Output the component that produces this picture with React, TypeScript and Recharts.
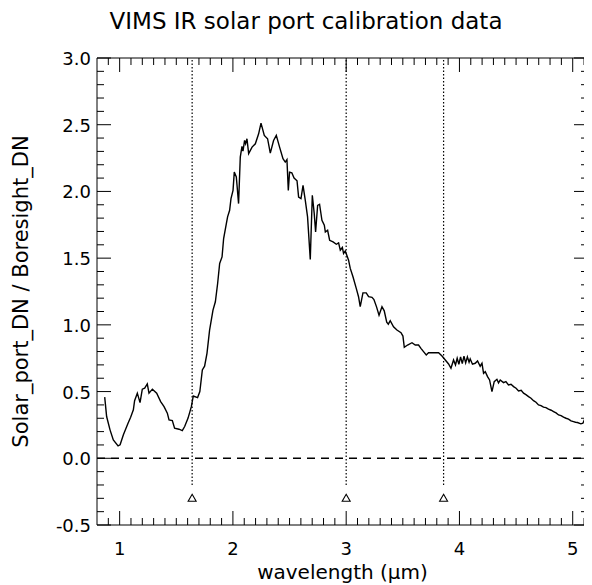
import { ComposedChart, Line, Scatter, XAxis, YAxis, ReferenceLine } from 'recharts';

const wavelength = [
  0.868, 0.885, 0.915, 0.944, 0.986, 1.004, 1.033, 1.074, 1.097, 1.121, 1.132, 1.156, 1.18, 1.2, 1.221,
  1.244, 1.259, 1.289, 1.327, 1.362, 1.392, 1.421, 1.436, 1.465, 1.485, 1.524, 1.553, 1.574, 1.604, 1.633,
  1.65, 1.688, 1.708, 1.73, 1.75, 1.771, 1.794, 1.824, 1.845, 1.865, 1.883, 1.904, 1.918, 1.942, 1.953,
  1.971, 1.983, 2.001, 2.012, 2.03, 2.05, 2.065, 2.08, 2.089, 2.103, 2.112, 2.124, 2.139, 2.169, 2.198,
  2.227, 2.248, 2.277, 2.306, 2.33, 2.359, 2.383, 2.412, 2.442, 2.462, 2.477, 2.489, 2.5, 2.52, 2.54,
  2.566, 2.58, 2.601, 2.619, 2.639, 2.659, 2.683, 2.701, 2.718, 2.73, 2.748, 2.765, 2.786, 2.807, 2.816,
  2.836, 2.854, 2.884, 2.913, 2.933, 2.948, 2.966, 2.977, 2.992, 3.021, 3.036, 3.06, 3.089, 3.109, 3.124,
  3.148, 3.177, 3.198, 3.228, 3.245, 3.268, 3.29, 3.316, 3.336, 3.358, 3.372, 3.389, 3.418, 3.448, 3.484,
  3.501, 3.513, 3.542, 3.581, 3.61, 3.639, 3.66, 3.683, 3.707, 3.727, 3.771, 3.816, 3.846, 3.875, 3.904,
  3.925, 3.948, 3.965, 3.98, 3.995, 4.01, 4.025, 4.04, 4.055, 4.07, 4.085, 4.095, 4.115, 4.139, 4.16,
  4.183, 4.199, 4.213, 4.228, 4.248, 4.266, 4.287, 4.307, 4.331, 4.345, 4.36, 4.389, 4.41, 4.433, 4.455,
  4.478, 4.5, 4.522, 4.545, 4.566, 4.59, 4.61, 4.632, 4.654, 4.676, 4.698, 4.72, 4.742, 4.764, 4.786,
  4.81, 4.831, 4.853, 4.875, 4.897, 4.919, 4.941, 4.963, 4.985, 5.007, 5.025, 5.042, 5.072, 5.09, 5.11,
];
const ratio = [
  0.458, 0.313, 0.213, 0.138, 0.093, 0.101, 0.176, 0.263, 0.308, 0.363, 0.432, 0.488, 0.417, 0.518, 0.525,
  0.557, 0.488, 0.518, 0.488, 0.425, 0.387, 0.338, 0.288, 0.283, 0.226, 0.218, 0.208, 0.238, 0.301, 0.387,
  0.467, 0.455, 0.5, 0.662, 0.69, 0.787, 0.961, 1.111, 1.173, 1.31, 1.46, 1.509, 1.647, 1.759, 1.809,
  1.859, 1.946, 2.008, 2.145, 2.108, 1.909, 2.257, 2.337, 2.302, 2.382, 2.357, 2.395, 2.283, 2.332, 2.357,
  2.432, 2.512, 2.42, 2.395, 2.287, 2.382, 2.42, 2.332, 2.245, 2.22, 2.238, 2.008, 2.145, 2.14, 2.1,
  2.08, 1.958, 1.946, 2.046, 1.933, 1.809, 1.49, 1.971, 1.834, 1.696, 1.896, 1.904, 1.784, 1.747, 1.696,
  1.709, 1.634, 1.622, 1.604, 1.614, 1.56, 1.58, 1.535, 1.554, 1.485, 1.423, 1.36, 1.273, 1.211, 1.136,
  1.24, 1.24, 1.211, 1.206, 1.19, 1.135, 1.073, 1.136, 1.105, 1.02, 1.005, 1.031, 0.986, 0.961, 0.941,
  0.916, 0.832, 0.849, 0.866, 0.849, 0.849, 0.824, 0.799, 0.774, 0.791, 0.791, 0.791, 0.767, 0.737, 0.707,
  0.675, 0.737, 0.7, 0.75, 0.705, 0.76, 0.71, 0.765, 0.715, 0.76, 0.72, 0.745, 0.705, 0.712, 0.73,
  0.69, 0.712, 0.637, 0.649, 0.612, 0.587, 0.5, 0.574, 0.592, 0.565, 0.587, 0.567, 0.575, 0.55, 0.555,
  0.537, 0.525, 0.505, 0.51, 0.488, 0.475, 0.462, 0.45, 0.432, 0.42, 0.4, 0.395, 0.383, 0.38, 0.368,
  0.36, 0.35, 0.34, 0.325, 0.32, 0.308, 0.3, 0.293, 0.28, 0.275, 0.27, 0.268, 0.258, 0.263, 0.301,
];

// band markers (dotted lines + triangles)
const markerWave = [1.64, 3.0, 3.86];
const markerY = -0.3;
const markerLineBottom = -0.2;

const xMajor = [1, 2, 3, 4, 5];
const yMajor = [-0.5, 0, 0.5, 1, 1.5, 2, 2.5, 3];

const xDomain = [0.8, 5.135];
const yDomain = [-0.5, 3.0];

const lineData = wavelength.map((x, i) => ({ x, y: ratio[i] }));
const markerData = markerWave.map((x) => ({ x, y: markerY }));

const xTicks: number[] = [];
for (let i = 9; i <= 51; i++) xTicks.push(i / 10);
const yTicks: number[] = [];
for (let i = -5; i <= 30; i++) yTicks.push(i / 10);

const isMajor = (v: number, list: number[]) => list.some((m) => Math.abs(m - v) < 1e-6);
const FONT = '"DejaVu Sans", Verdana, sans-serif';

const BottomTick = (p: any) => {
  const v = p.payload.value;
  const major = isMajor(v, xMajor);
  return (
    <g>
      <line x1={p.x} x2={p.x} y1={p.y} y2={p.y - (major ? 14 : 7)} stroke="#000" />
      {major && (
        <text x={p.x} y={p.y + 30} textAnchor="middle" fontSize={18} fontFamily={FONT} fill="#000">
          {v}
        </text>
      )}
    </g>
  );
};
const TopTick = (p: any) => {
  const major = isMajor(p.payload.value, xMajor);
  return <line x1={p.x} x2={p.x} y1={p.y} y2={p.y + (major ? 14 : 7)} stroke="#000" />;
};
const LeftTick = (p: any) => {
  const v = p.payload.value;
  const major = isMajor(v, yMajor);
  return (
    <g>
      <line x1={p.x} x2={p.x + (major ? 14 : 7)} y1={p.y} y2={p.y} stroke="#000" />
      {major && (
        <text x={p.x - 6} y={p.y + 7} textAnchor="end" fontSize={18} fontFamily={FONT} fill="#000">
          {v.toFixed(1)}
        </text>
      )}
    </g>
  );
};
const RightTick = (p: any) => {
  const major = isMajor(p.payload.value, yMajor);
  return <line x1={p.x} x2={p.x - (major ? 14 : 7)} y1={p.y} y2={p.y} stroke="#000" />;
};

const Triangle = (p: any) => {
  const { cx, cy } = p;
  return <path d={`M${cx},${cy - 4} L${cx + 4},${cy + 3} L${cx - 4},${cy + 3} Z`} fill="none" stroke="#000" strokeWidth={1.1} />;
};

export default function App() {
  return (
    <div style={{ width: 584, height: 577, position: 'relative', fontFamily: FONT }}>
      <div
        style={{ position: 'absolute', left: 0, top: -1, width: 596, textAlign: 'center', fontSize: 23, lineHeight: '28px' }}
      >
        VIMS IR solar port calibration data
      </div>
      <ComposedChart width={584} height={577} margin={{ top: 49, right: 3, bottom: 30, left: 29 }}>
        <XAxis
          dataKey="x"
          type="number"
          domain={xDomain}
          allowDataOverflow
          ticks={xTicks}
          interval={0}
          tickSize={0}
          tickMargin={0}
          height={30}
          tick={BottomTick}
          stroke="#000"
          label={{ value: 'wavelength (μm)', position: 'insideBottom', offset: -24, fontSize: 20, fill: '#000', fontFamily: FONT }}
        />
        <XAxis
          xAxisId="top"
          dataKey="x"
          orientation="top"
          type="number"
          domain={xDomain}
          allowDataOverflow
          ticks={xTicks}
          interval={0}
          tickSize={0}
          tickMargin={0}
          height={1}
          tick={TopTick}
          stroke="#000"
        />
        <YAxis
          type="number"
          domain={yDomain}
          allowDataOverflow
          ticks={yTicks}
          interval={0}
          tickSize={0}
          tickMargin={0}
          width={60}
          tick={LeftTick}
          stroke="#000"
          label={{ value: 'Solar_port_DN / Boresight_DN', angle: -90, position: 'insideLeft', offset: -16, fontSize: 21, fill: '#000', fontFamily: FONT, style: { textAnchor: 'middle' } }}
        />
        <YAxis
          yAxisId="right"
          orientation="right"
          type="number"
          domain={yDomain}
          allowDataOverflow
          ticks={yTicks}
          interval={0}
          tickSize={0}
          tickMargin={0}
          width={1}
          tick={RightTick}
          stroke="#000"
        />
        <ReferenceLine y={0} stroke="#000" strokeWidth={1.6} strokeDasharray="8 6" />
        {markerWave.map((w) => (
          <ReferenceLine
            key={w}
            segment={[
              { x: w, y: markerLineBottom },
              { x: w, y: yDomain[1] },
            ]}
            stroke="#000"
            strokeWidth={1.2}
            strokeDasharray="1.5 2"
          />
        ))}
        {/* same series on the mirrored axes so the top/right frame gets drawn */}
        <Line
          data={lineData}
          dataKey="y"
          xAxisId="top"
          yAxisId="right"
          stroke="none"
          dot={false}
          activeDot={false}
          isAnimationActive={false}
        />
        <Line
          data={lineData}
          dataKey="y"
          type="linear"
          stroke="#000"
          strokeWidth={1.4}
          dot={false}
          isAnimationActive={false}
        />
        <Scatter data={markerData} dataKey="y" shape={Triangle} isAnimationActive={false} />
      </ComposedChart>
    </div>
  );
}
